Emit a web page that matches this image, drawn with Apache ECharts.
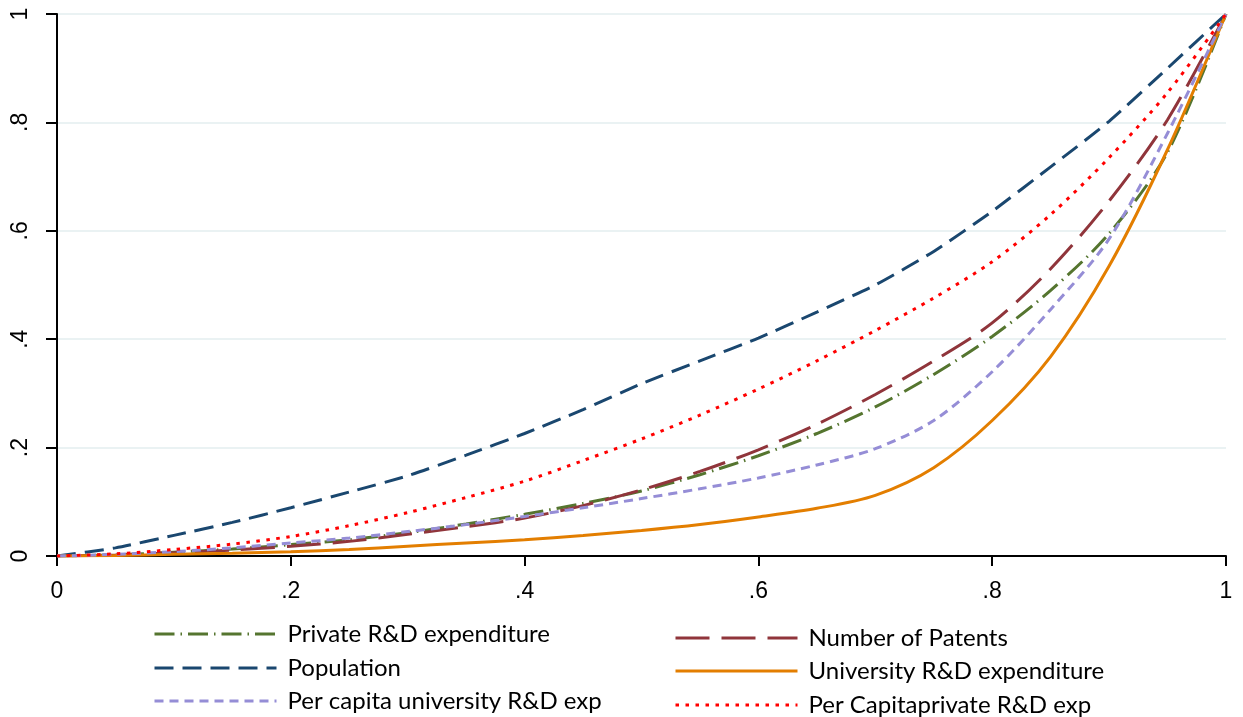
<!DOCTYPE html>
<html>
<head>
<meta charset="utf-8">
<script src="https://cdn.jsdelivr.net/npm/echarts@6/dist/echarts.min.js"></script>
<style>
html,body{margin:0;padding:0;background:#fff;}
#chart{width:1243px;height:717px;}
</style>
</head>
<body>
<div id="chart"></div>
<script>
// Cumulative share of regions (x)
var xs = [0, 0.05, 0.1, 0.15, 0.2, 0.25, 0.3, 0.35, 0.4, 0.45, 0.5, 0.55, 0.6, 0.65, 0.7, 0.75, 0.8, 0.85, 0.9, 0.95, 1];
// Cumulative shares (y) per series
var privateRD      = [0, 0.002, 0.007, 0.013, 0.021, 0.030, 0.043, 0.059, 0.077, 0.097, 0.120, 0.150, 0.185, 0.226, 0.275, 0.335, 0.405, 0.490, 0.595, 0.745, 1];
var patents        = [0, 0.002, 0.006, 0.011, 0.018, 0.027, 0.040, 0.054, 0.070, 0.093, 0.122, 0.156, 0.196, 0.243, 0.298, 0.360, 0.430, 0.530, 0.655, 0.805, 1];
var population     = [0, 0.015, 0.038, 0.062, 0.089, 0.118, 0.148, 0.186, 0.226, 0.270, 0.318, 0.360, 0.402, 0.450, 0.500, 0.562, 0.636, 0.718, 0.802, 0.900, 1];
var universityRD   = [0, 0.001, 0.003, 0.005, 0.008, 0.012, 0.018, 0.024, 0.030, 0.038, 0.047, 0.058, 0.072, 0.088, 0.112, 0.163, 0.250, 0.368, 0.535, 0.750, 1];
var pcUniversityRD = [0, 0.003, 0.008, 0.015, 0.024, 0.033, 0.045, 0.058, 0.073, 0.089, 0.106, 0.124, 0.144, 0.168, 0.198, 0.250, 0.340, 0.455, 0.585, 0.780, 1];
var pcPrivateRD    = [0, 0.004, 0.012, 0.022, 0.036, 0.056, 0.080, 0.108, 0.138, 0.176, 0.216, 0.260, 0.308, 0.360, 0.416, 0.476, 0.543, 0.630, 0.735, 0.855, 1];

var seriesNames = ['Private R&D expenditure', 'Number of Patents', 'Population', 'University R&D expenditure', 'Per capita university R&D exp', 'Per Capitaprivate R&D exp'];
var tickLabels = {0: '0', 0.2: '.2', 0.4: '.4', 0.6: '.6', 0.8: '.8', 1: '1'};

function pairs(ys) { return xs.map(function (x, i) { return [x, ys[i]]; }); }
function fmt(v) { var k = Math.round(v * 10) / 10; return tickLabels[k] !== undefined ? tickLabels[k] : String(v); }

var styles = [
  {color: '#55752f', type: [20, 6, 1.5, 6], smooth: 0.3, data: privateRD},
  {color: '#90353b', type: [34, 12], smooth: 0.3, data: patents},
  {color: '#1a476f', type: [19, 9], smooth: 0.2, data: population},
  {color: '#e37e00', type: 'solid', smooth: 0.3, data: universityRD},
  {color: '#958dd6', type: [9, 6], smooth: 0.3, data: pcUniversityRD},
  {color: '#ff0000', type: [3.5, 6.5], smooth: 0.3, data: pcPrivateRD}
];

var series = styles.map(function (s, i) {
  return {
    name: seriesNames[i],
    type: 'line',
    data: pairs(s.data),
    symbol: 'none',
    smooth: s.smooth,
    color: s.color,
    lineStyle: {color: s.color, width: 3, type: s.type},
    z: 2 + i
  };
});

// legend placement: [left, top] per series (two columns, three rows)
var legendPos = [[153, 622], [674, 626], [153, 656], [674, 659], [153, 689], [674, 693]];
var legendText = {fontFamily: 'Lato', fontSize: 24, color: '#000', lineHeight: 24, padding: [0, 0, 0, 6]};

var legends = seriesNames.map(function (n, i) {
  return {
    data: [n],
    orient: 'horizontal', left: legendPos[i][0], top: legendPos[i][1],
    itemWidth: 122, itemHeight: 20, padding: 0,
    itemStyle: {color: 'rgba(0,0,0,0)', borderWidth: 0},
    lineStyle: {width: 3},
    textStyle: legendText,
    selectedMode: false
  };
});

var option = {
  backgroundColor: '#fff',
  animation: false,
  grid: {left: 57, right: 17, top: 14, bottom: 161, containLabel: false},
  xAxis: {
    type: 'value', min: 0, max: 1, interval: 0.2,
    axisLine: {show: true, onZero: false, lineStyle: {color: '#000', width: 2}},
    axisTick: {show: true, length: 10, lineStyle: {color: '#000', width: 2}},
    axisLabel: {formatter: fmt, color: '#000', fontFamily: 'Liberation Sans', fontSize: 23, margin: 24},
    splitLine: {show: false}
  },
  yAxis: {
    type: 'value', min: 0, max: 1, interval: 0.2,
    axisLine: {show: true, onZero: false, lineStyle: {color: '#000', width: 2}},
    axisTick: {show: true, length: 11, lineStyle: {color: '#000', width: 2}},
    axisLabel: {formatter: fmt, color: '#000', fontFamily: 'Liberation Sans', fontSize: 23, margin: 25, rotate: 90},
    splitLine: {show: true, lineStyle: {color: '#eaf2f3', width: 2}}
  },
  legend: legends,
  series: series
};

var chart = echarts.init(document.getElementById('chart'), null, {renderer: 'canvas'});
chart.setOption(option);
</script>
</body>
</html>
